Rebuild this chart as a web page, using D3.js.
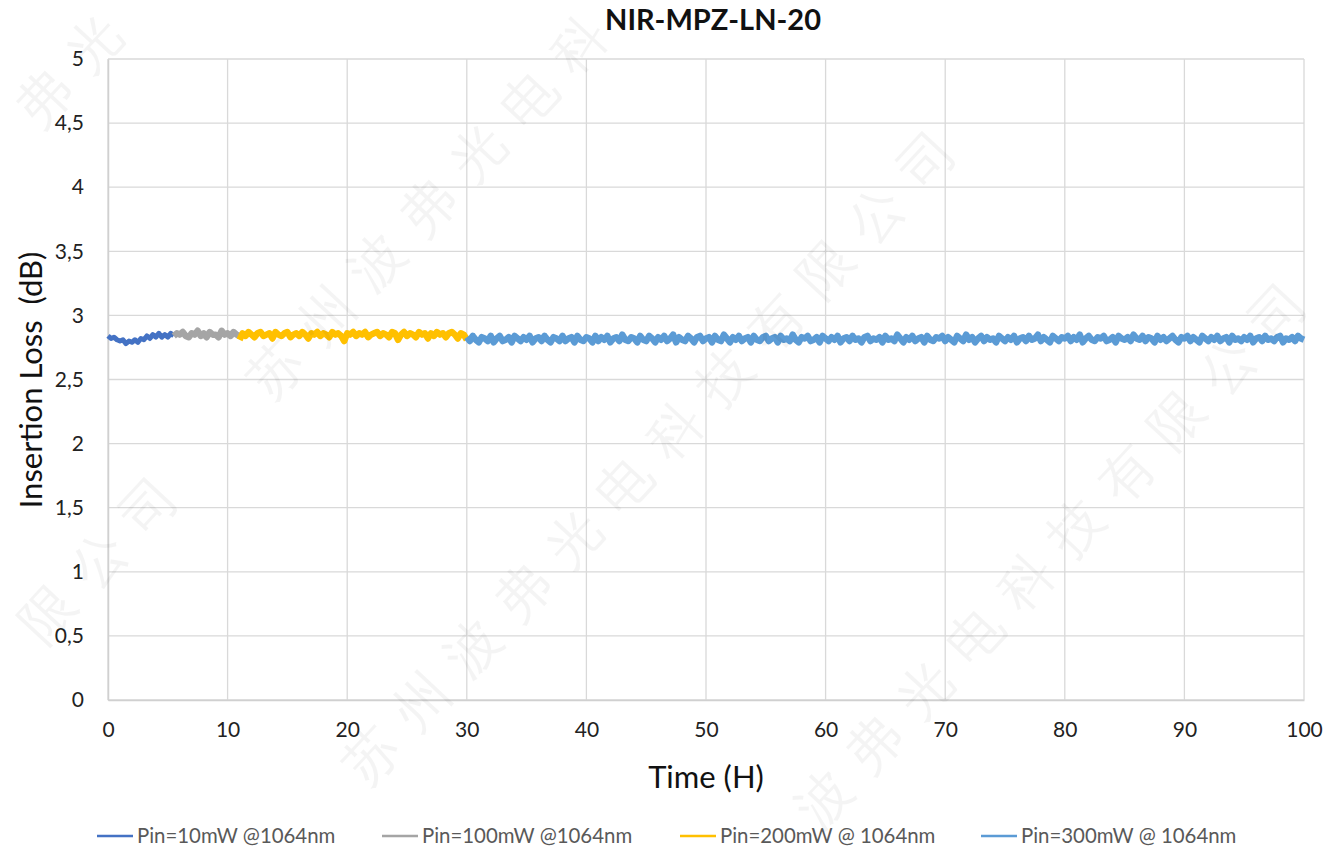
<!DOCTYPE html>
<html>
<head>
<meta charset="utf-8">
<script src="https://cdn.jsdelivr.net/npm/d3@7"></script>
<style>
  body { margin: 0; background: #fff; }
  svg { display: block; }
  text { font-family: Lato, "Open Sans", "Liberation Sans", sans-serif; }
</style>
</head>
<body>
<svg id="chart" width="1330" height="847"></svg>
<script>
// ---------- data ----------
const chartTitle = "NIR-MPZ-LN-20";
const xTicks = [0, 10, 20, 30, 40, 50, 60, 70, 80, 90, 100];
const yTicks = [0, 0.5, 1, 1.5, 2, 2.5, 3, 3.5, 4, 4.5, 5];
const yTickLabels = ["0", "0,5", "1", "1,5", "2", "2,5", "3", "3,5", "4", "4,5", "5"];
const seriesNames = ["Pin=10mW @1064nm", "Pin=100mW @1064nm", "Pin=200mW @ 1064nm", "Pin=300mW @ 1064nm"];
const seriesColors = ["#4472c4", "#a5a5a5", "#ffc000", "#5b9bd5"];
const seriesSpans = [[0, 5.5], [5.5, 11], [11, 30], [30, 100]]; // hours covered by each series

const s10mW = [2.84,2.82,2.83,2.81,2.80,2.81,2.78,2.80,2.79,2.81,2.79,2.82,2.81,2.84,2.82,2.85,2.83,2.86,2.83,2.85,2.83,2.86,2.84];
const s100mW = [2.84,2.86,2.85,2.87,2.84,2.83,2.86,2.85,2.88,2.84,2.86,2.83,2.87,2.85,2.85,2.83,2.88,2.85,2.86,2.84,2.87,2.85,2.84];
const s200mW = [2.81,2.86,2.84,2.87,2.85,2.83,2.86,2.87,2.84,2.85,2.86,2.82,2.87,2.85,2.84,2.86,2.87,2.83,2.85,2.86,
  2.84,2.87,2.85,2.82,2.86,2.85,2.87,2.84,2.86,2.85,2.83,2.87,2.85,2.86,2.84,2.80,2.86,2.85,2.87,2.84,
  2.86,2.85,2.87,2.83,2.85,2.86,2.87,2.84,2.86,2.85,2.83,2.87,2.86,2.81,2.85,2.87,2.84,2.86,2.85,2.83,
  2.87,2.85,2.86,2.82,2.86,2.84,2.87,2.85,2.86,2.83,2.86,2.87,2.85,2.82,2.86,2.85,2.81];
const s300mW = [
  2.83,2.80,2.84,2.81,2.79,2.83,2.82,2.80,2.84,2.79,2.82,2.84,2.80,2.81,2.83,2.79,2.84,2.82,2.80,2.83,
  2.81,2.84,2.79,2.82,2.83,2.80,2.84,2.81,2.79,2.83,2.82,2.80,2.84,2.80,2.82,2.83,2.79,2.84,2.81,2.80,
  2.83,2.82,2.79,2.84,2.80,2.83,2.81,2.84,2.79,2.82,2.83,2.80,2.85,2.81,2.80,2.83,2.82,2.79,2.84,2.81,
  2.80,2.84,2.82,2.79,2.83,2.81,2.84,2.80,2.82,2.85,2.79,2.83,2.81,2.80,2.84,2.82,2.79,2.83,2.84,2.80,
  2.82,2.83,2.79,2.84,2.81,2.80,2.85,2.82,2.79,2.83,2.81,2.84,2.80,2.82,2.83,2.79,2.84,2.81,2.80,2.83,
  2.84,2.80,2.82,2.83,2.79,2.84,2.81,2.82,2.80,2.85,2.81,2.79,2.83,2.82,2.84,2.80,2.81,2.83,2.79,2.84,
  2.82,2.80,2.83,2.81,2.84,2.79,2.82,2.83,2.80,2.84,2.81,2.82,2.79,2.83,2.84,2.80,2.82,2.81,2.83,2.79,
  2.84,2.81,2.82,2.80,2.85,2.82,2.79,2.83,2.81,2.84,2.80,2.82,2.83,2.79,2.84,2.81,2.80,2.83,2.82,2.84,
  2.80,2.83,2.81,2.79,2.84,2.82,2.80,2.85,2.81,2.83,2.79,2.82,2.84,2.80,2.83,2.81,2.82,2.79,2.84,2.82,
  2.80,2.83,2.81,2.84,2.79,2.82,2.83,2.80,2.84,2.81,2.82,2.85,2.80,2.83,2.81,2.79,2.84,2.82,2.80,2.83,
  2.82,2.84,2.80,2.83,2.81,2.85,2.79,2.82,2.84,2.81,2.80,2.83,2.82,2.84,2.80,2.81,2.83,2.79,2.84,2.82,
  2.81,2.83,2.80,2.85,2.82,2.81,2.84,2.80,2.83,2.82,2.79,2.84,2.81,2.83,2.80,2.82,2.84,2.81,2.79,2.83,
  2.82,2.84,2.80,2.83,2.81,2.79,2.84,2.82,2.80,2.83,2.81,2.84,2.80,2.82,2.83,2.79,2.84,2.81,2.82,2.80,
  2.83,2.81,2.84,2.79,2.82,2.83,2.80,2.84,2.81,2.82,2.80,2.83,2.84,2.79,2.82,2.81,2.83,2.80,2.84,2.82,
  2.81];
const seriesValues = [s10mW, s100mW, s200mW, s300mW];

const watermarkText = "苏州波弗光电科技有限公司";

// ---------- layout ----------
const W = 1330, H = 847;
const plot = { left: 108, right: 1304, top: 59, bottom: 700 };
const svg = d3.select("#chart");

const x = d3.scaleLinear().domain([0, 100]).range([plot.left, plot.right]);
const y = d3.scaleLinear().domain([0, 5]).range([plot.bottom, plot.top]);

// gridlines
const grid = svg.append("g");
grid.selectAll("line.h").data(yTicks).join("line")
  .attr("x1", plot.left).attr("x2", plot.right)
  .attr("y1", d => y(d)).attr("y2", d => y(d))
  .attr("stroke", "#d9d9d9").attr("stroke-width", 1.3);
grid.selectAll("line.v").data(xTicks).join("line")
  .attr("y1", plot.top).attr("y2", plot.bottom)
  .attr("x1", d => x(d)).attr("x2", d => x(d))
  .attr("stroke", "#d9d9d9").attr("stroke-width", 1.3);

// axes (labels only, Excel-style)
const xAxis = d3.axisBottom(x).tickValues(xTicks).tickSize(0).tickPadding(22);
const gx = svg.append("g").attr("transform", `translate(0,${plot.bottom})`).call(xAxis);
gx.select(".domain").attr("stroke", "#d0d0d0").attr("stroke-width", 1.5);
gx.selectAll("text").attr("font-size", 21).attr("fill", "#222");

const yAxis = d3.axisLeft(y).tickValues(yTicks).tickSize(0).tickPadding(24)
  .tickFormat((d, i) => yTickLabels[i]);
const gy = svg.append("g").attr("transform", `translate(${plot.left},0)`).call(yAxis);
gy.select(".domain").attr("stroke", "#d0d0d0").attr("stroke-width", 1.5);
gy.selectAll("text").attr("font-size", 21).attr("fill", "#222");

// series
const line = d3.line().x(d => x(d[0])).y(d => y(d[1]));
seriesValues.forEach((vals, si) => {
  const [t0, t1] = seriesSpans[si];
  const step = (t1 - t0) / (vals.length - 1);
  const pts = vals.map((v, i) => [t0 + i * step, v]);
  svg.append("path").datum(pts)
    .attr("d", line)
    .attr("fill", "none")
    .attr("stroke", seriesColors[si])
    .attr("stroke-width", si === 0 ? 5 : 6.5)
    .attr("stroke-linejoin", "round");
});

// title
svg.append("text").attr("x", 713).attr("y", 30)
  .attr("text-anchor", "middle").attr("font-size", 29).attr("font-weight", "bold")
  .attr("fill", "#111").text(chartTitle);

// axis titles
svg.append("text").attr("x", 706).attr("y", 788)
  .attr("text-anchor", "middle").attr("font-size", 31).attr("fill", "#111").text("Time (H)");
svg.append("text").attr("transform", "translate(42,380) rotate(-90)")
  .attr("text-anchor", "middle").attr("font-size", 31).attr("fill", "#111")
  .attr("xml:space", "preserve").style("white-space", "pre").text("Insertion Loss  (dB)");

// legend
const legendX = [97, 382, 680, 981];
const lg = svg.append("g");
seriesNames.forEach((n, i) => {
  lg.append("line").attr("x1", legendX[i]).attr("x2", legendX[i] + 36)
    .attr("y1", 836).attr("y2", 836)
    .attr("stroke", seriesColors[i]).attr("stroke-width", 2.5);
  lg.append("text").attr("x", legendX[i] + 40).attr("y", 843)
    .attr("font-size", 20.4).attr("fill", "#595959").text(n);
});

// watermark
const dir = [Math.cos(47 * Math.PI / 180), -Math.sin(47 * Math.PI / 180)];
const nrm = [-dir[1], dir[0]];
const wmLines = [[97, -264], [452, -82], [785, -299], [1145, -170], [1490, -100]];
const chars = Array.from(watermarkText);
const wm = svg.append("g").attr("fill", "#000").attr("fill-opacity", 0.045)
  .attr("font-family", "'Noto Sans CJK SC', sans-serif").attr("font-size", 54);
wmLines.forEach(([n, s0]) => {
  for (let k = -2; k <= 2; k++) {
    chars.forEach((c, j) => {
      const s = s0 + k * 1000 + j * 74;
      const px = n * nrm[0] + s * dir[0];
      const py = n * nrm[1] + s * dir[1];
      if (px < 42 || px > W - 42 || py < 42 || py > H - 42) return;
      wm.append("text").attr("x", px).attr("y", py)
        .attr("text-anchor", "middle").attr("dominant-baseline", "central")
        .attr("transform", `rotate(-47,${px},${py})`).text(c);
    });
  }
});
</script>
</body>
</html>
